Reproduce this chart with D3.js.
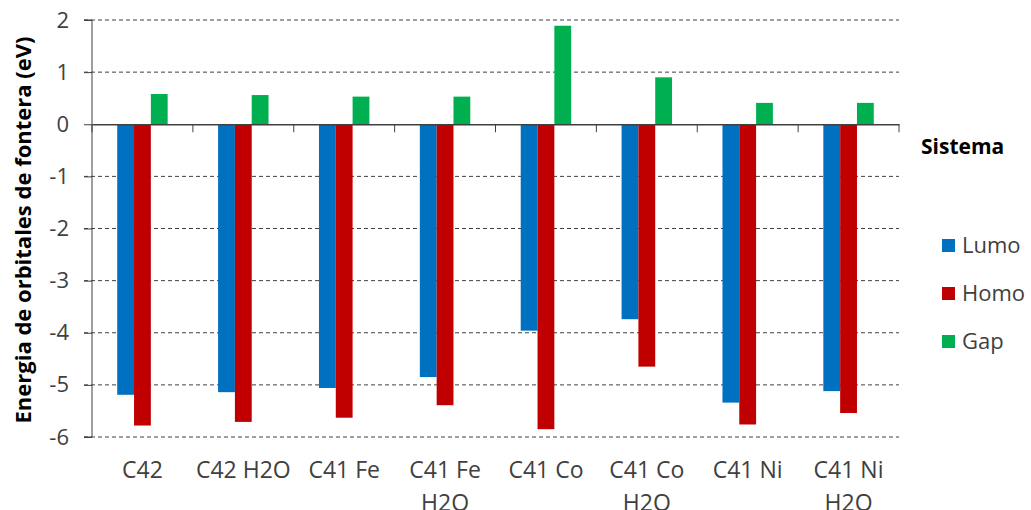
<!DOCTYPE html>
<html><head><meta charset="utf-8">
<script src="https://cdn.jsdelivr.net/npm/d3@7"></script>
<style>body{margin:0;background:#fff;} svg{display:block;font-family:"Open Sans",sans-serif;}</style>
</head><body>
<svg id="chart" width="1031" height="510"></svg>
<script>
const categories = [["C42"],["C42 H2O"],["C41 Fe"],["C41 Fe","H2O"],["C41 Co"],["C41 Co","H2O"],["C41 Ni"],["C41 Ni","H2O"]];
const lumo = [-5.19,-5.14,-5.06,-4.85,-3.96,-3.74,-5.34,-5.12];
const homo = [-5.78,-5.71,-5.63,-5.39,-5.85,-4.65,-5.76,-5.54];
const gap  = [0.58,0.56,0.53,0.53,1.89,0.90,0.41,0.41];
const seriesNames = ["Lumo","Homo","Gap"];
const colors = ["#0070C0","#C00000","#00B050"];
const yTicks = [2,1,0,-1,-2,-3,-4,-5,-6];

const svg = d3.select("#chart");
const L = 92, R = 899, T = 20, B = 437;
const x = d3.scaleBand().domain(d3.range(categories.length)).range([L,R]).padding(0);
const y = d3.scaleLinear().domain([-6,2]).range([B,T]);
const seriesVals = [lumo,homo,gap];
const inner = d3.scaleBand().domain(d3.range(3)).range([0, x.bandwidth()/2]);
const off = x.bandwidth()/4;

// gridlines
svg.append("g").selectAll("line").data(yTicks.filter(d=>d!==0)).join("line")
  .attr("x1",84).attr("x2",R).attr("y1",d=>y(d)).attr("y2",d=>y(d))
  .attr("stroke","#404040").attr("stroke-width",1).attr("stroke-dasharray","4,3");

// bars
seriesVals.forEach((vals,si)=>{
  svg.append("g").selectAll("rect").data(vals).join("rect")
    .attr("x",(d,i)=>x(i)+off+inner(si))
    .attr("width",inner.bandwidth())
    .attr("y",d=>y(Math.max(0,d)))
    .attr("height",d=>Math.abs(y(d)-y(0)))
    .attr("fill",colors[si]);
});

// y axis
const yAxis = d3.axisLeft(y).tickValues(yTicks).tickSize(8).tickPadding(15).tickFormat(d3.format("d"));
const ya = svg.append("g").attr("transform",`translate(${L},0)`).call(yAxis);
ya.select(".domain").attr("stroke","#404040").attr("d",`M-8,${T}H0V${B}H-8`);
ya.selectAll(".tick line").attr("stroke","#404040");
ya.selectAll(".tick text").attr("font-size",22).attr("fill","#404040").attr("font-family","'Open Sans',sans-serif").text(d=>d<0?"-"+Math.abs(d):d);

// x axis at zero
const xAxis = d3.axisBottom(x).tickSize(0).tickFormat("");
const xa = svg.append("g").attr("transform",`translate(0,${y(0)})`).call(xAxis);
xa.select(".domain").attr("stroke","#404040").attr("stroke-width",1.3);
svg.append("g").selectAll("line").data(d3.range(categories.length+1)).join("line")
  .attr("x1",d=>L+d*x.bandwidth()).attr("x2",d=>L+d*x.bandwidth())
  .attr("y1",y(0)).attr("y2",y(0)+8).attr("stroke","#404040");

// category labels
const cl = svg.append("g").selectAll("text").data(categories).join("text")
  .attr("x",(d,i)=>x(i)+x.bandwidth()/2).attr("y",478)
  .attr("text-anchor","middle").attr("font-size",23).attr("fill","#404040");
cl.each(function(d){
  const t = d3.select(this);
  d.forEach((s,k)=>t.append("tspan").attr("x",t.attr("x")).attr("dy",k===0?0:33).text(s));
});

// y title
svg.append("text").attr("transform","translate(31,230) rotate(-90)")
  .attr("text-anchor","middle").attr("font-size",22).attr("font-weight","bold").attr("fill","#000")
  .text("Energia de orbitales de fontera (eV)");

// legend
svg.append("text").attr("x",921).attr("y",154).attr("font-size",21).attr("font-weight","bold").attr("fill","#000").text("Sistema");
const lg = svg.append("g").selectAll("g").data(seriesNames).join("g")
  .attr("transform",(d,i)=>`translate(942,${245+i*48})`);
lg.append("rect").attr("x",0).attr("y",-6).attr("width",13).attr("height",13).attr("fill",(d,i)=>colors[i]);
lg.append("text").attr("x",20).attr("y",8).attr("font-size",22).attr("fill","#404040").text(d=>d);
</script>
</body></html>
